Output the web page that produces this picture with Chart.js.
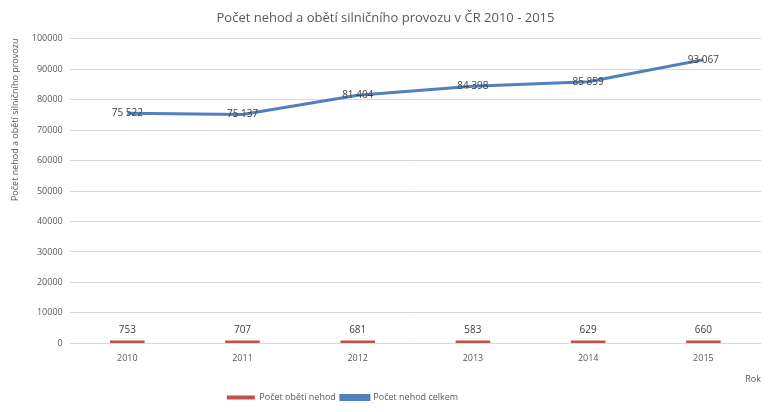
<!DOCTYPE html>
<html>
<head>
<meta charset="utf-8">
<script src="https://cdn.jsdelivr.net/npm/chart.js@4"></script>
<style>
  html, body { margin: 0; padding: 0; background: #fff; }
  #wrap { width: 770px; height: 412px; }
</style>
</head>
<body>
<div id="wrap"><canvas id="chart" width="770" height="412"></canvas></div>
<script>
let years = ["2010", "2011", "2012", "2013", "2014", "2015"];
let victims = [753, 707, 681, 583, 629, 660];
let accidents = [75522, 75137, 81404, 84398, 85859, 93067];

const FONT = "'Open Sans', 'Liberation Sans', sans-serif";

// format like Excel: 75 522
function spaced(v) {
  return String(v).replace(/\B(?=(\d{3})+(?!\d))/g, " ");
}

// simple data label plugin
const labelsPlugin = {
  id: "labels",
  afterLayout(chart) {
    // legend in the original sits a bit left of centre
    chart.legend.left -= 43;
    chart.legend.right -= 43;
  },
  afterDatasetsDraw(chart) {
    const ctx = chart.ctx;
    ctx.save();
    ctx.font = "10px " + FONT;
    ctx.fillStyle = "#404040";
    ctx.textAlign = "center";
    chart.data.datasets.forEach((ds, i) => {
      const meta = chart.getDatasetMeta(i);
      meta.data.forEach((el, j) => {
        if (ds.type === "line") {
          ctx.textBaseline = "middle";
          ctx.fillText(spaced(ds.data[j]), el.x, el.y);
        } else {
          ctx.textBaseline = "bottom";
          ctx.fillText(spaced(ds.data[j]), el.x, el.y - 5);
        }
      });
    });
    ctx.restore();
  }
};

const ctx = document.getElementById("chart");

new Chart(ctx, {
  type: "bar",
  data: {
    labels: years,
    datasets: [
      {
        type: "bar",
        label: "Počet obětí nehod",
        data: victims,
        backgroundColor: "#C0504D",
        categoryPercentage: 1,
        barPercentage: 0.3,
        minBarLength: 3,
        order: 2
      },
      {
        type: "line",
        label: "Počet nehod celkem",
        data: accidents,
        borderColor: "#4F81BD",
        backgroundColor: "#4F81BD",
        borderWidth: 3,
        pointRadius: 0,
        tension: 0,
        order: 1
      }
    ]
  },
  plugins: [labelsPlugin],
  options: {
    responsive: false,
    animation: false,
    layout: { padding: { left: 10, right: 9, top: 0, bottom: 0 } },
    plugins: {
      title: {
        display: true,
        text: "Počet nehod a obětí silničního provozu v ČR 2010 - 2015",
        color: "#595959",
        font: { family: FONT, size: 13, weight: "normal" },
        padding: { top: 10, bottom: 13 }
      },
      legend: {
        position: "bottom",
        labels: {
          color: "#595959",
          font: { family: FONT, size: 9 },
          boxWidth: 28,
          boxHeight: 4,
          padding: 5,
          sort: (a, b) => a.datasetIndex - b.datasetIndex
        }
      },
      tooltip: { enabled: false }
    },
    scales: {
      x: {
        grid: { display: false },
        border: { display: false },
        ticks: { color: "#595959", font: { family: FONT, size: 9 }, padding: 2 },
        title: {
          display: true,
          text: "Rok",
          align: "end",
          color: "#595959",
          font: { family: FONT, size: 9 },
          padding: { top: 8, bottom: 3 }
        }
      },
      y: {
        min: 0,
        max: 100000,
        grid: { color: "#D9D9D9", drawTicks: false },
        border: { display: false },
        ticks: {
          stepSize: 10000,
          color: "#595959",
          font: { family: FONT, size: 9 },
          padding: 7,
          callback: v => String(v)
        },
        title: {
          display: true,
          text: "Počet nehod a obětí silničního provozu",
          align: "end",
          color: "#595959",
          font: { family: FONT, size: 9 },
          padding: { top: 0, bottom: 4 }
        }
      }
    }
  }
});
</script>
</body>
</html>
